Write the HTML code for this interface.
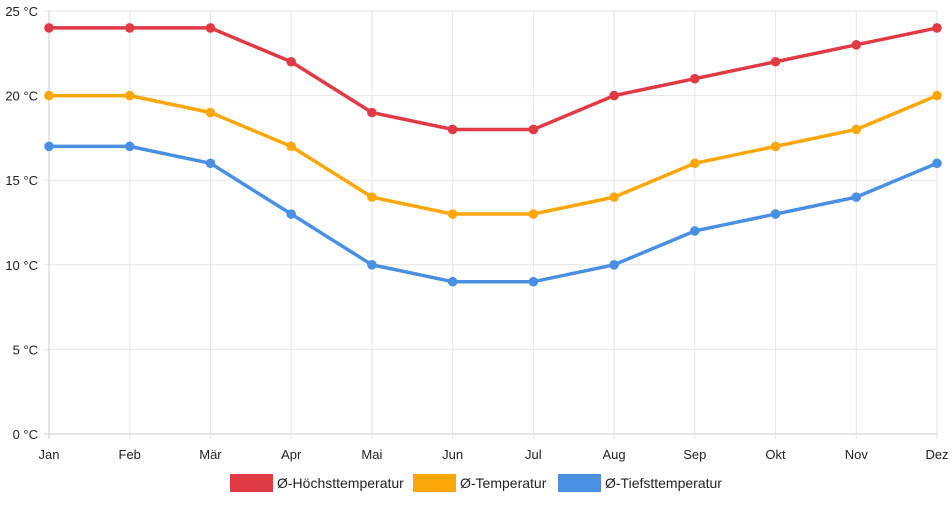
<!DOCTYPE html>
<html><head><meta charset="utf-8"><style>
body{margin:0;background:#fff;font-family:"Liberation Sans",sans-serif}
svg text{font-family:"Liberation Sans",sans-serif;font-size:13px;fill:#222}
svg text.lg{font-size:14px}
</style></head><body>
<svg id="c" width="952" height="500"></svg>
<script>
const months=["Jan","Feb","Mär","Apr","Mai","Jun","Jul","Aug","Sep","Okt","Nov","Dez"];
const maxTemp=[24,24,24,22,19,18,18,20,21,22,23,24];
const avgTemp=[20,20,19,17,14,13,13,14,16,17,18,20];
const minTemp=[17,17,16,13,10,9,9,10,12,13,14,16];
const yTicks=[0,5,10,15,20,25];
const seriesNames=["Ø-Höchsttemperatur","Ø-Temperatur","Ø-Tiefsttemperatur"];
const NS="http://www.w3.org/2000/svg",svg=document.getElementById('c');
const x0=49,x1=937,yTop=11,yBot=434;
const xs=i=>x0+(x1-x0)*i/(months.length-1);
const ys=v=>yBot-(yBot-yTop)*v/25;
function mk(t,a){const e=document.createElementNS(NS,t);for(const k in a)e.setAttribute(k,a[k]);svg.appendChild(e);return e;}
yTicks.forEach(v=>{
 const l=mk('line',{x1:x0-5,x2:x1,y1:ys(v),y2:ys(v),stroke:v===0?'#ccc':'#e6e6e6'});
 
 
 const t=mk('text',{x:38,y:ys(v)+5,'text-anchor':'end'});t.textContent=v+' °C';
 
 
});
months.forEach((m,i)=>{
 const l=mk('line',{x1:xs(i),x2:xs(i),y1:yTop,y2:yBot+5,stroke:i===0?'#ccc':'#e6e6e6'});
 
 
 const t=mk('text',{x:xs(i),y:459,'text-anchor':'middle'});t.textContent=m;
 
 
});
const series=[[maxTemp,'#e03a45'],[avgTemp,'#fba707'],[minTemp,'#4a90e2']];
series.forEach(([d,c],si)=>{
 const p=mk('polyline',{points:d.map((v,i)=>xs(i)+','+ys(v)).join(' '),fill:'none',stroke:c,'stroke-width':3.5,'stroke-linejoin':'round'});
 
 
 d.forEach((v,i)=>{const q=mk('circle',{cx:xs(i),cy:ys(v),r:4.8,fill:c});
 
 });
});
const lx=[230,413,558];
seriesNames.forEach((n,i)=>{
 const r=mk('rect',{x:lx[i],y:474,width:43,height:18,fill:series[i][1]});
 
 
 const t=mk('text',{x:lx[i]+47,y:488,'class':'lg'});t.textContent=n;
 
 
});
</script>
</body></html>
